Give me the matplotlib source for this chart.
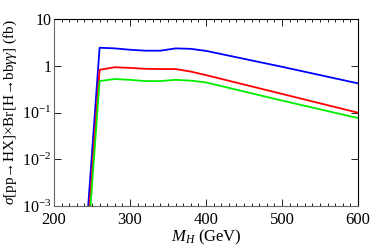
import matplotlib.pyplot as plt
from matplotlib.ticker import MultipleLocator, FixedLocator
import numpy as np

plt.rcParams['font.family'] = 'Liberation Serif'
plt.rcParams['mathtext.fontset'] = 'custom'
plt.rcParams['mathtext.rm'] = 'Liberation Serif'
plt.rcParams['mathtext.it'] = 'Liberation Serif:italic'

# M_H (GeV) and cross sections (fb)
mh = [240, 260, 280, 300, 320, 340, 360, 380, 400, 500, 600]
blue = [7.5e-5, 2.43, 2.35, 2.2, 2.1, 2.1, 2.35, 2.3, 2.08, 0.95, 0.42]
red = [3e-5, 0.82, 0.93, 0.9, 0.86, 0.85, 0.85, 0.75, 0.63, 0.25, 0.099]
green = [1.6e-5, 0.47, 0.52, 0.5, 0.47, 0.47, 0.5, 0.48, 0.44, 0.18, 0.076]

fig = plt.figure(figsize=(3.71, 2.46), dpi=100)
ax = fig.add_axes([54/371, 1-206/246, 304/371, 187/246])

ax.plot(mh, blue, color='#0000ff', lw=1.3)
ax.plot(mh, red, color='#ff0000', lw=1.3)
ax.plot(mh, green, color='#00ee00', lw=1.3)

ax.set_yscale('log')
ax.set_xlim(200, 600)
ax.set_ylim(1e-3, 10)
ax.xaxis.set_major_locator(MultipleLocator(100))
ax.xaxis.set_minor_locator(MultipleLocator(10))
ax.yaxis.set_major_locator(FixedLocator([1e-3, 1e-2, 1e-1, 1, 10]))
ax.yaxis.set_minor_locator(FixedLocator([]))
ax.set_yticklabels(['$10^{-3}$', '$10^{-2}$', '$10^{-1}$', '1', '10'])

ax.tick_params(which='both', direction='in', top=True, right=True,
               labelsize=12, pad=2, width=0.6)
ax.tick_params(axis='y', labelsize=11.5)
ax.tick_params(axis='x', pad=4)
ax.tick_params(which='major', length=5)
ax.tick_params(which='minor', length=2.5)

for side in ['left', 'bottom']:
    ax.spines[side].set_color('#666666')
for side in ['top', 'right']:
    ax.spines[side].set_color('black')
for s in ax.spines.values():
    s.set_linewidth(0.8)

ax.set_xlabel('$M_H$ (GeV)', fontsize=12, labelpad=0)
ax.set_ylabel('$\\sigma$[pp→HX]×Br[H→bb$\\gamma\\gamma$] (fb)',
              fontsize=11, labelpad=2)

fig.savefig('out.png', dpi=100)
